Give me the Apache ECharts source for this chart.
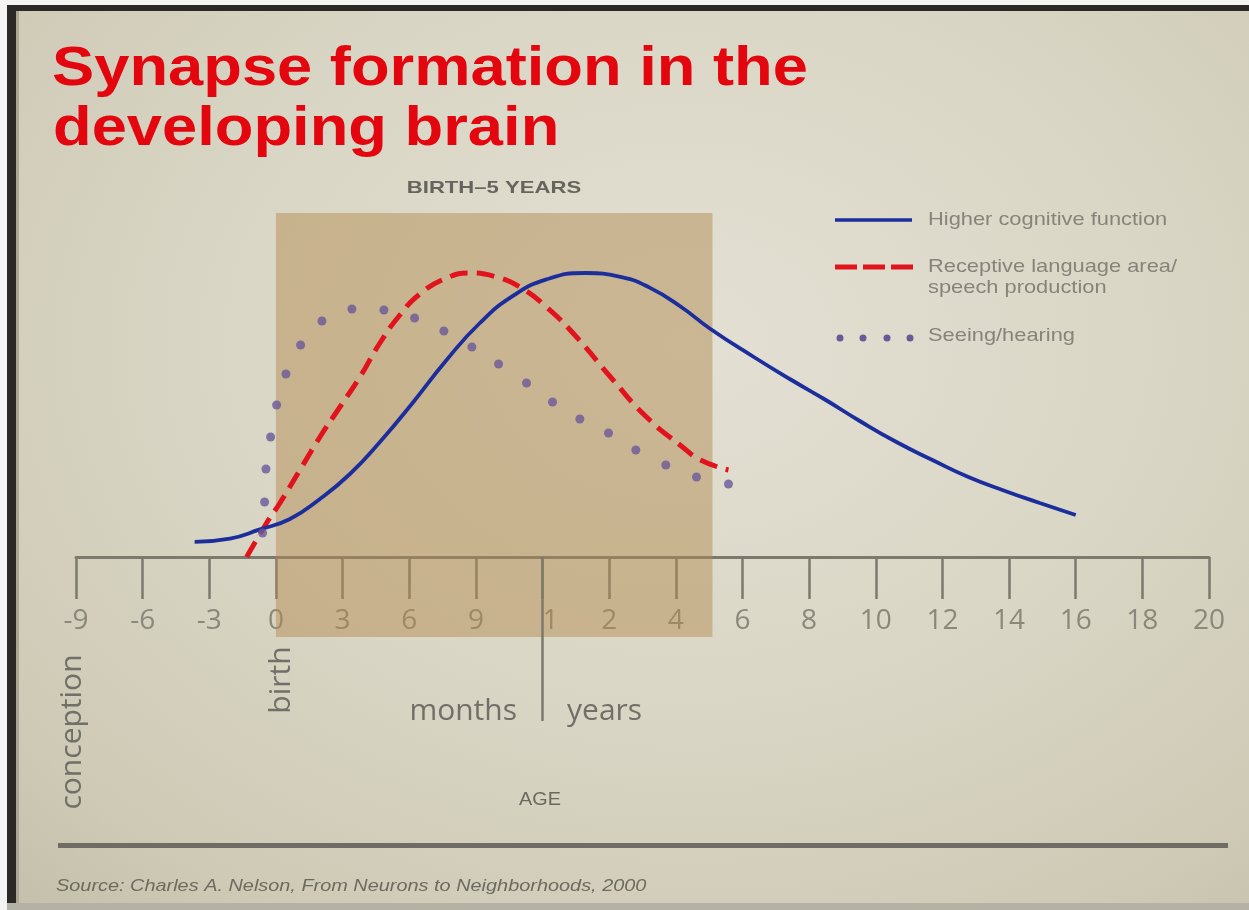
<!DOCTYPE html>
<html>
<head>
<meta charset="utf-8">
<script src="https://cdn.jsdelivr.net/npm/echarts@6/dist/echarts.min.js"></script>
<style>
  html, body { margin: 0; padding: 0; }
  #chart {
    width: 1249px; height: 910px;
    background: radial-gradient(ellipse 85% 90% at 55% 38%, #e3e0d4 0%, #dad6c5 45%, #cecab6 78%, #bfbba6 100%);
  }
</style>
</head>
<body>
<div id="chart"></div>
<script>
// ---- data (x = position along the age axis in tick steps, y = relative synapse formation) ----
const tickLabels = ['-9', '-6', '-3', '0', '3', '6', '9', '1', '2', '4', '6', '8', '10', '12', '14', '16', '18', '20'];
const monthsYearsBoundary = 7;          // tick index of "1 year"
const birthToFiveYears = [3, 9.55];     // shaded window (tick index range)

const higherCognitive = [
  [1.78, 3.8], [2.31, 4.6], [2.76, 6.9], [3.21, 9.5], [3.66, 14.5], [4.11, 20.75], [4.56, 28.75],
  [5.05, 38.5], [5.56, 49.25], [6.06, 58.5], [6.55, 65.2], [7.06, 69.4], [7.64, 71], [8.2, 69.9],
  [8.6, 67.4], [9.06, 62.75], [9.52, 57], [10.17, 50], [10.71, 44.5], [11.25, 39.25], [11.76, 34],
  [12.31, 28.75], [12.85, 24.25], [13.39, 20], [13.94, 16.5], [14.46, 13.5], [15.0, 10.5]
];
const receptiveLanguage = [
  [2.56, 0], [2.86, 8.5], [3.06, 13.5], [3.36, 21.75], [3.66, 30], [3.96, 37.5], [4.26, 45],
  [4.56, 53.5], [4.86, 60.5], [5.16, 65.75], [5.56, 69.75], [5.91, 71], [6.31, 70], [6.66, 67.5],
  [7.06, 62.5], [7.51, 55], [8.02, 45], [8.56, 35], [9.10, 27.5], [9.37, 24.25], [9.79, 21.75]
];
const seeingHearing = [
  [2.80, 6], [2.83, 13.75], [2.85, 22], [2.92, 30], [3.01, 38], [3.15, 45.75], [3.37, 53],
  [3.69, 59], [4.14, 62], [4.62, 61.75], [5.08, 59.75], [5.52, 56.5], [5.94, 52.5], [6.34, 48.25],
  [6.76, 43.5], [7.15, 38.75], [7.56, 34.5], [7.99, 31], [8.40, 26.75], [8.85, 23], [9.31, 20], [9.79, 18.25]
];
const seriesNames = ['Higher cognitive function', 'Receptive language area/\nspeech production', 'Seeing/hearing'];

// ---- styles ----
const BLUE = '#1b2e9c', RED = '#e1141e', PURPLE = '#6a5898';
const AXIS = '#7c7a6d', LABEL = '#8a887a', TXT = '#707068';

const chart = echarts.init(document.getElementById('chart'));

const option = {
  animation: false,
  grid: { left: 76, right: 40, top: 213, bottom: 189 },
  xAxis: {
    type: 'value', min: 0, max: 17, interval: 1,
    offset: -164,
    axisLine: { onZero: false, lineStyle: { color: AXIS, width: 3 } },
    axisTick: { show: true, length: 42, lineStyle: { color: AXIS, width: 2.5 } },
    axisLabel: {
      margin: 50, fontSize: 28, color: LABEL, fontFamily: 'Open Sans',
      formatter: v => {
        const i = Math.round(v);
        return i === monthsYearsBoundary ? '{shift|' + tickLabels[i] + '}' : (tickLabels[i] ?? '');
      },
      rich: { shift: { fontSize: 28, color: LABEL, fontFamily: 'Open Sans', padding: [0, 0, 0, 16] } }
    },
    splitLine: { show: false }
  },
  yAxis: { type: 'value', min: -41, max: 86, show: false, splitLine: { show: false } },
  series: [
    {
      name: seriesNames[1], type: 'line', data: receptiveLanguage, smooth: 0.5, showSymbol: false,
      lineStyle: { color: RED, width: 5, type: [18, 9], cap: 'butt' }, z: 3,
      markArea: {
        silent: true,
        itemStyle: { color: 'rgba(178,138,80,0.48)' },
        data: [[{ coord: [birthToFiveYears[0], -20] }, { coord: [birthToFiveYears[1], 86] }]]
      }
    },
    {
      name: seriesNames[0], type: 'line', data: higherCognitive, smooth: 0.5, showSymbol: false,
      lineStyle: { color: BLUE, width: 3.8 }, z: 4,
      markLine: {
        silent: true, symbol: 'none', label: { show: false },
        lineStyle: { color: AXIS, width: 2.5, type: 'solid' },
        data: [[{ coord: [monthsYearsBoundary, 0] }, { coord: [monthsYearsBoundary, -41] }]]
      }
    },
    {
      name: seriesNames[2], type: 'scatter', data: seeingHearing, symbolSize: 9,
      itemStyle: { color: PURPLE }, z: 5
    }
  ],
  graphic: [
    // frame
    { type: 'rect', shape: { x: 0, y: 0, width: 1249, height: 5 }, style: { fill: '#f4f4f2' }, silent: true },
    { type: 'rect', shape: { x: 0, y: 0, width: 7, height: 910 }, style: { fill: '#f4f4f2' }, silent: true },
    { type: 'rect', shape: { x: 7, y: 5, width: 1242, height: 6 }, style: { fill: '#2a2926' }, silent: true },
    { type: 'rect', shape: { x: 7, y: 5, width: 9, height: 900 }, style: { fill: '#2a2926' }, silent: true },
    { type: 'rect', shape: { x: 16, y: 11, width: 3, height: 894 }, style: { fill: '#a9a694' }, silent: true },
    { type: 'rect', shape: { x: 7, y: 903, width: 1242, height: 7 }, style: { fill: '#b4b2a5' }, silent: true },
    // title
    { type: 'text', x: 52, y: 70, scaleX: 1.13, style: { text: 'Synapse formation in the', font: 'bold 56px "Liberation Sans", Arial', fill: '#e3060f', textVerticalAlign: 'middle' } },
    { type: 'text', x: 53, y: 130, scaleX: 1.13, style: { text: 'developing brain', font: 'bold 56px "Liberation Sans", Arial', fill: '#e3060f', textVerticalAlign: 'middle' } },
    // window caption
    { type: 'text', x: 494, y: 188, scaleX: 1.3, style: { text: 'BIRTH–5 YEARS', font: 'bold 17px "Liberation Sans", Arial', fill: '#66655d', textAlign: 'center', textVerticalAlign: 'middle' } },
    // legend
    { type: 'line', shape: { x1: 835, y1: 220, x2: 912, y2: 220 }, style: { stroke: BLUE, lineWidth: 3.5 } },
    { type: 'line', shape: { x1: 835, y1: 267, x2: 913, y2: 267 }, style: { stroke: RED, lineWidth: 5, lineDash: [22, 6] } },
    { type: 'circle', shape: { cx: 840, cy: 338, r: 3.5 }, style: { fill: PURPLE } },
    { type: 'circle', shape: { cx: 863, cy: 338, r: 3.5 }, style: { fill: PURPLE } },
    { type: 'circle', shape: { cx: 887, cy: 338, r: 3.5 }, style: { fill: PURPLE } },
    { type: 'circle', shape: { cx: 910, cy: 338, r: 3.5 }, style: { fill: PURPLE } },
    { type: 'text', x: 928, y: 220, scaleX: 1.15, style: { text: seriesNames[0], font: '19px "Liberation Sans", Arial', fill: '#86847a', textVerticalAlign: 'middle' } },
    { type: 'text', x: 928, y: 277, scaleX: 1.15, style: { text: seriesNames[1], font: '19px "Liberation Sans", Arial', fill: '#86847a', textVerticalAlign: 'middle', lineHeight: 21 } },
    { type: 'text', x: 928, y: 336, scaleX: 1.15, style: { text: seriesNames[2], font: '19px "Liberation Sans", Arial', fill: '#86847a', textVerticalAlign: 'middle' } },
    // axis annotations
    { type: 'text', x: 517, y: 711, style: { text: 'months', font: '30px "Open Sans"', fill: TXT, textAlign: 'right', textVerticalAlign: 'middle' } },
    { type: 'text', x: 567, y: 711, style: { text: 'years', font: '30px "Open Sans"', fill: TXT, textAlign: 'left', textVerticalAlign: 'middle' } },
    { type: 'text', x: 72, y: 732, rotation: Math.PI / 2, style: { text: 'conception', font: '30px "Open Sans"', fill: TXT, textAlign: 'center', textVerticalAlign: 'middle' } },
    { type: 'text', x: 281, y: 680, rotation: Math.PI / 2, style: { text: 'birth', font: '30px "Open Sans"', fill: TXT, textAlign: 'center', textVerticalAlign: 'middle' } },
    { type: 'text', x: 540, y: 800, scaleX: 1.1, style: { text: 'AGE', font: '18px "Liberation Sans", Arial', fill: '#6a6960', textAlign: 'center', textVerticalAlign: 'middle' } },
    // footer
    { type: 'rect', shape: { x: 58, y: 843, width: 1170, height: 5 }, style: { fill: '#6e6c64' } },
    { type: 'text', x: 56, y: 886, scaleX: 1.17, style: { text: 'Source: Charles A. Nelson, From Neurons to Neighborhoods, 2000', font: 'italic 17px "Liberation Sans", Arial', fill: '#6d6b60', textVerticalAlign: 'middle' } }
  ]
};
chart.setOption(option);
</script>
</body>
</html>
